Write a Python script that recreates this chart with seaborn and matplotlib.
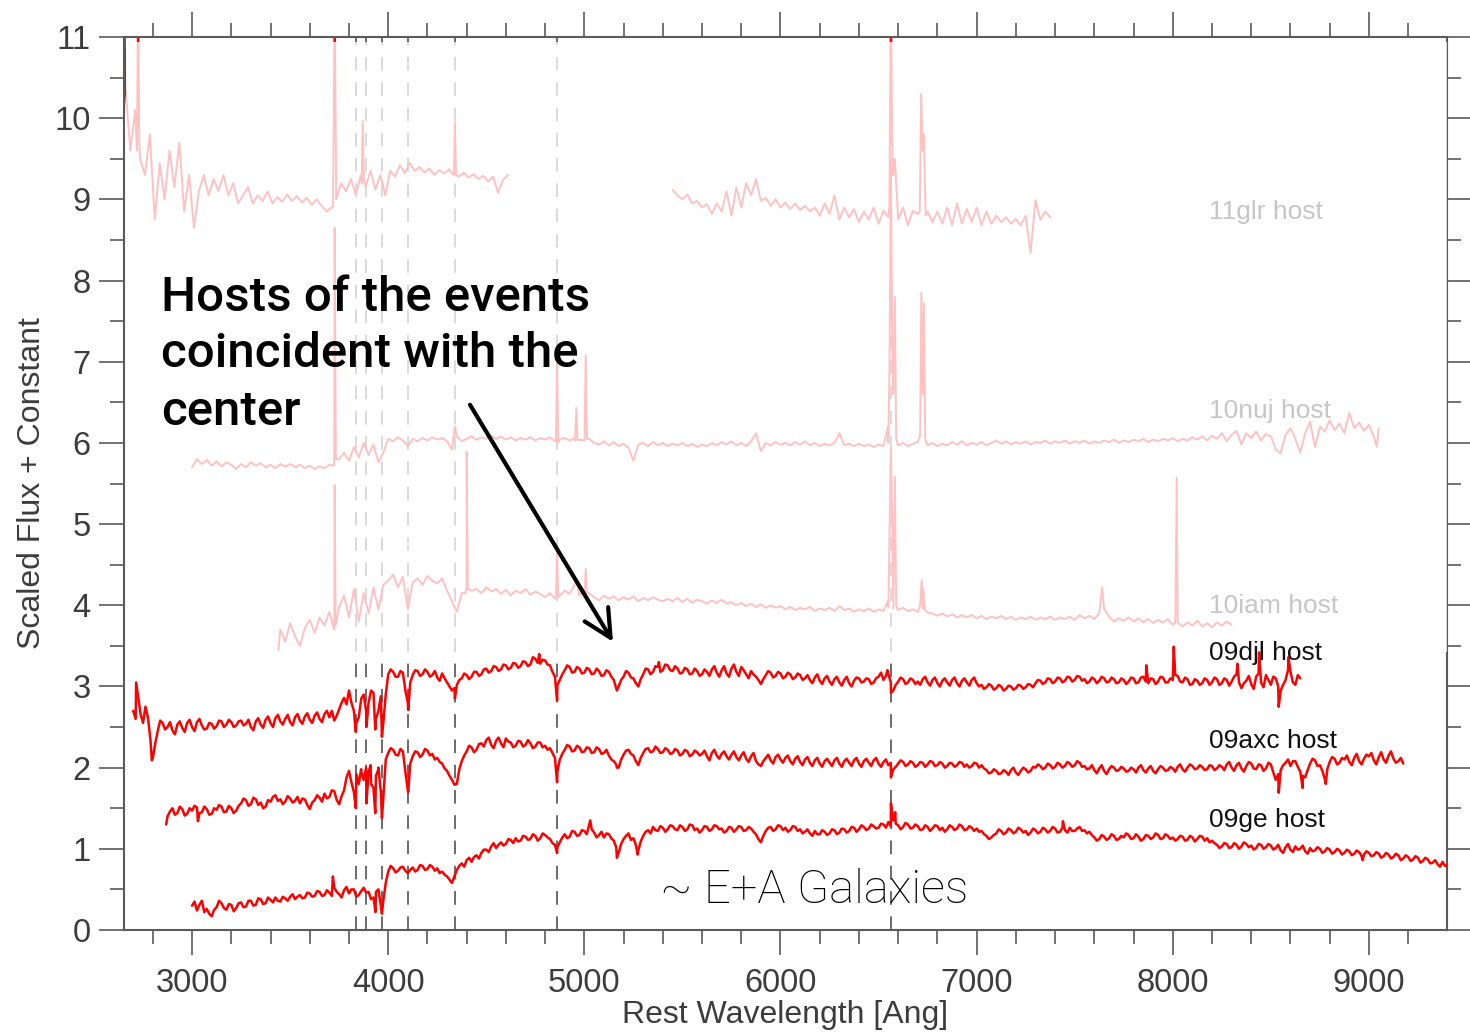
import numpy as np
import pandas as pd
import matplotlib
matplotlib.use("Agg")
import matplotlib.pyplot as plt
from matplotlib.patches import Rectangle
from matplotlib.ticker import MultipleLocator
import seaborn as sns

# ---------------------------------------------------------------------------
# Host-galaxy spectra (rest wavelength in Angstrom, scaled flux + offset).
# Each spectrum: first wavelength, sampling step, flux samples, and a list of
# narrow features (emission / absorption lines) as (wavelength, flux) pairs.
# ---------------------------------------------------------------------------

ge_start, ge_step = 3000, 12.5
ge_flux = [
    0.30, 0.35, 0.24, 0.31, 0.36, 0.22, 0.26, 0.20, 0.17, 0.25, 0.28, 0.36, 0.33, 0.27, 0.25, 0.32, 0.31, 0.23, 0.27, 0.33,
    0.34, 0.28, 0.29, 0.36, 0.36, 0.30, 0.31, 0.39, 0.38, 0.32, 0.33, 0.40, 0.37, 0.34, 0.40, 0.36, 0.35, 0.41, 0.39, 0.36,
    0.41, 0.44, 0.38, 0.41, 0.43, 0.39, 0.40, 0.46, 0.45, 0.41, 0.42, 0.48, 0.47, 0.42, 0.43, 0.49, 0.46, 0.42, 0.52, 0.47,
    0.44, 0.40, 0.49, 0.53, 0.45, 0.50, 0.50, 0.41, 0.43, 0.48, 0.52, 0.46, 0.47, 0.38, 0.40, 0.47, 0.50, 0.30, 0.36, 0.58,
    0.72, 0.79, 0.76, 0.71, 0.73, 0.77, 0.78, 0.73, 0.70, 0.74, 0.77, 0.72, 0.74, 0.80, 0.79, 0.74, 0.75, 0.80, 0.78, 0.73,
    0.76, 0.70, 0.72, 0.68, 0.66, 0.62, 0.58, 0.66, 0.74, 0.79, 0.82, 0.78, 0.86, 0.89, 0.84, 0.90, 0.92, 0.88, 0.95, 0.99,
    0.99, 0.96, 1.03, 1.07, 1.01, 1.05, 1.08, 1.04, 1.06, 1.12, 1.11, 1.07, 1.13, 1.09, 1.10, 1.16, 1.15, 1.11, 1.12, 1.18,
    1.16, 1.10, 1.13, 1.19, 1.17, 1.14, 1.12, 1.07, 1.05, 1.02, 1.08, 1.14, 1.18, 1.13, 1.15, 1.22, 1.21, 1.16, 1.17, 1.23,
    1.22, 1.18, 1.30, 1.24, 1.20, 1.14, 1.17, 1.21, 1.14, 1.19, 1.18, 1.13, 1.10, 1.02, 0.95, 1.06, 1.12, 1.16, 1.19, 1.11,
    1.13, 1.05, 0.98, 1.09, 1.16, 1.21, 1.23, 1.19, 1.27, 1.23, 1.22, 1.28, 1.26, 1.21, 1.24, 1.29, 1.28, 1.24, 1.23, 1.29,
    1.27, 1.22, 1.24, 1.30, 1.29, 1.23, 1.25, 1.20, 1.23, 1.28, 1.27, 1.22, 1.24, 1.29, 1.28, 1.24, 1.25, 1.20, 1.22, 1.27,
    1.26, 1.21, 1.24, 1.28, 1.27, 1.22, 1.23, 1.27, 1.25, 1.21, 1.18, 1.12, 1.08, 1.16, 1.22, 1.26, 1.27, 1.22, 1.24, 1.29,
    1.28, 1.23, 1.26, 1.21, 1.23, 1.28, 1.27, 1.22, 1.24, 1.19, 1.21, 1.24, 1.19, 1.16, 1.22, 1.18, 1.18, 1.23, 1.21, 1.17,
    1.19, 1.24, 1.23, 1.18, 1.20, 1.25, 1.24, 1.20, 1.22, 1.27, 1.26, 1.21, 1.24, 1.29, 1.27, 1.23, 1.25, 1.30, 1.28, 1.25,
    1.26, 1.31, 1.30, 1.26, 1.33, 1.28, 1.35, 1.31, 1.29, 1.24, 1.27, 1.32, 1.30, 1.25, 1.26, 1.30, 1.28, 1.23, 1.24, 1.29,
    1.27, 1.22, 1.25, 1.29, 1.28, 1.23, 1.26, 1.21, 1.24, 1.29, 1.27, 1.23, 1.25, 1.30, 1.28, 1.23, 1.24, 1.28, 1.26, 1.22,
    1.25, 1.21, 1.22, 1.18, 1.16, 1.12, 1.14, 1.17, 1.19, 1.24, 1.22, 1.18, 1.20, 1.25, 1.23, 1.19, 1.21, 1.26, 1.24, 1.20,
    1.22, 1.17, 1.20, 1.25, 1.23, 1.19, 1.21, 1.26, 1.24, 1.20, 1.22, 1.27, 1.25, 1.20, 1.21, 1.26, 1.23, 1.20, 1.26, 1.22,
    1.22, 1.25, 1.27, 1.22, 1.23, 1.19, 1.21, 1.17, 1.14, 1.10, 1.12, 1.17, 1.15, 1.11, 1.13, 1.18, 1.16, 1.11, 1.12, 1.16,
    1.14, 1.19, 1.17, 1.12, 1.13, 1.18, 1.15, 1.10, 1.12, 1.17, 1.16, 1.12, 1.14, 1.19, 1.17, 1.12, 1.13, 1.18, 1.16, 1.12,
    1.14, 1.10, 1.12, 1.16, 1.15, 1.10, 1.11, 1.16, 1.14, 1.09, 1.12, 1.16, 1.15, 1.10, 1.13, 1.08, 1.10, 1.07, 1.05, 1.01,
    1.03, 1.07, 1.06, 1.01, 1.02, 1.07, 1.05, 1.00, 1.03, 1.08, 1.06, 1.02, 1.04, 0.99, 1.01, 1.06, 1.05, 1.00, 1.02, 1.06,
    1.04, 0.99, 1.01, 1.05, 0.98, 0.95, 1.02, 1.06, 0.99, 0.96, 1.03, 0.99, 1.00, 1.04, 0.97, 0.94, 1.01, 0.97, 0.98, 1.02,
    1.00, 0.95, 0.97, 1.01, 0.99, 0.94, 0.96, 1.00, 0.98, 0.93, 0.95, 0.99, 0.97, 0.92, 0.94, 0.98, 0.96, 0.91, 0.93, 0.97,
    0.95, 0.91, 0.92, 0.96, 0.94, 0.89, 0.91, 0.95, 0.93, 0.88, 0.90, 0.94, 0.92, 0.86, 0.88, 0.92, 0.90, 0.85, 0.87, 0.91,
    0.89, 0.83, 0.85, 0.89, 0.87, 0.82, 0.83, 0.86, 0.81, 0.78, 0.84, 0.79, 0.80,
]
ge_lines = [(3718, 0.66), (3935, 0.22), (3968, 0.20), (4861, 0.95), (5030, 1.35),
            (5166, 0.89), (5272, 0.93), (6563, 1.56), (6585, 1.45), (7440, 1.34), (8968, 0.86)]

axc_start, axc_step = 2875, 12.5
axc_flux = [
    1.40, 1.46, 1.50, 1.42, 1.44, 1.52, 1.49, 1.41, 1.43, 1.50, 1.47, 1.53, 1.51, 1.44, 1.45, 1.52, 1.49, 1.42, 1.43, 1.50,
    1.48, 1.54, 1.52, 1.45, 1.46, 1.53, 1.50, 1.44, 1.47, 1.53, 1.56, 1.62, 1.60, 1.53, 1.55, 1.63, 1.61, 1.54, 1.57, 1.50,
    1.52, 1.60, 1.58, 1.64, 1.66, 1.59, 1.61, 1.55, 1.58, 1.65, 1.62, 1.57, 1.59, 1.64, 1.56, 1.62, 1.61, 1.54, 1.49, 1.57,
    1.60, 1.66, 1.63, 1.58, 1.68, 1.62, 1.64, 1.72, 1.71, 1.60, 1.55, 1.65, 1.72, 1.88, 1.96, 1.82, 1.70, 1.92, 1.80, 1.95,
    1.85, 2.00, 1.95, 1.80, 1.75, 1.90, 1.98, 1.70, 1.62, 2.10, 2.18, 2.24, 2.22, 2.16, 2.15, 2.23, 2.20, 1.95, 1.72, 2.05,
    2.14, 2.20, 2.19, 2.13, 2.16, 2.23, 2.21, 2.15, 2.17, 2.10, 2.12, 2.07, 2.05, 1.99, 1.96, 1.90, 1.85, 1.79, 1.80, 1.98,
    2.08, 2.15, 2.20, 2.27, 2.25, 2.19, 2.22, 2.29, 2.30, 2.26, 2.34, 2.37, 2.28, 2.24, 2.33, 2.37, 2.30, 2.25, 2.36, 2.32,
    2.31, 2.25, 2.27, 2.33, 2.32, 2.26, 2.28, 2.34, 2.30, 2.24, 2.26, 2.31, 2.31, 2.25, 2.27, 2.22, 2.24, 2.18, 2.12, 1.95,
    2.10, 2.17, 2.22, 2.28, 2.26, 2.20, 2.21, 2.27, 2.25, 2.19, 2.20, 2.25, 2.24, 2.18, 2.19, 2.25, 2.23, 2.17, 2.18, 2.22,
    2.15, 2.10, 2.08, 2.04, 2.00, 2.10, 2.16, 2.21, 2.22, 2.17, 2.15, 2.08, 2.03, 2.12, 2.18, 2.23, 2.24, 2.19, 2.20, 2.26,
    2.23, 2.18, 2.19, 2.24, 2.22, 2.17, 2.18, 2.23, 2.21, 2.15, 2.17, 2.22, 2.20, 2.14, 2.16, 2.21, 2.19, 2.15, 2.17, 2.21,
    2.14, 2.09, 2.18, 2.22, 2.15, 2.11, 2.17, 2.20, 2.14, 2.10, 2.16, 2.20, 2.13, 2.09, 2.15, 2.19, 2.11, 2.07, 2.14, 2.18,
    2.08, 2.04, 2.02, 2.08, 2.12, 2.16, 2.09, 2.05, 2.13, 2.16, 2.10, 2.06, 2.12, 2.15, 2.08, 2.04, 2.11, 2.14, 2.07, 2.03,
    2.10, 2.13, 2.06, 2.02, 2.09, 2.12, 2.05, 2.01, 2.08, 2.11, 2.06, 2.02, 2.09, 2.12, 2.05, 2.01, 2.08, 2.11, 2.06, 2.02,
    2.09, 2.12, 2.05, 2.01, 2.08, 2.11, 2.06, 2.02, 2.09, 2.12, 2.05, 2.01, 2.07, 2.10, 2.03, 2.06, 1.98, 2.01, 2.05, 2.09,
    2.07, 2.02, 2.04, 2.08, 2.06, 2.01, 2.03, 2.07, 2.06, 2.01, 2.04, 2.08, 2.07, 2.02, 2.03, 2.07, 2.05, 2.00, 2.02, 2.06,
    2.05, 2.01, 2.03, 2.07, 2.06, 2.01, 2.04, 2.00, 2.02, 2.06, 2.05, 2.00, 2.03, 1.99, 1.97, 1.93, 1.94, 1.98, 1.96, 1.92,
    1.93, 1.97, 1.95, 1.91, 1.97, 2.00, 1.94, 1.91, 1.96, 2.00, 1.98, 1.94, 1.96, 2.01, 2.00, 2.04, 2.02, 1.98, 2.00, 2.05,
    2.03, 1.99, 2.01, 2.06, 2.04, 2.00, 2.02, 2.07, 2.05, 2.01, 2.03, 2.08, 2.06, 2.01, 2.02, 1.98, 1.99, 2.03, 1.97, 1.93,
    1.99, 2.03, 1.96, 1.92, 1.98, 2.02, 2.00, 1.96, 1.97, 2.01, 1.99, 1.95, 1.96, 2.00, 1.98, 1.94, 2.00, 2.03, 1.97, 1.94,
    1.99, 2.02, 1.96, 1.93, 1.98, 2.02, 2.00, 1.96, 1.97, 2.01, 1.99, 1.95, 2.01, 2.04, 1.98, 1.95, 2.00, 2.04, 2.02, 1.98,
    1.99, 2.03, 2.01, 1.97, 1.98, 2.03, 2.02, 1.97, 1.99, 2.03, 2.01, 1.97, 2.04, 2.07, 2.00, 1.96, 2.03, 2.06, 1.99, 1.95,
    2.02, 2.07, 2.05, 1.99, 1.98, 2.04, 2.03, 1.96, 1.99, 2.06, 2.04, 1.94, 1.85, 1.92, 1.97, 2.03, 2.06, 2.10, 2.02, 2.08,
    2.08, 2.01, 1.95, 1.90, 1.88, 1.97, 2.05, 2.11, 2.09, 2.02, 2.03, 1.96, 1.86, 1.98, 2.07, 2.13, 2.11, 2.04, 2.06, 2.12,
    2.10, 2.15, 2.07, 2.03, 2.12, 2.17, 2.08, 2.04, 2.11, 2.16, 2.14, 2.18, 2.09, 2.04, 2.13, 2.19, 2.10, 2.06, 2.15, 2.20,
    2.11, 2.06, 2.08, 2.12, 2.05,
]
axc_lines = [(2868, 1.30), (3030, 1.34), (3835, 1.50), (3862, 1.98), (3889, 1.56), (3910, 2.03),
             (3934, 1.44), (3950, 2.00), (3968, 1.38), (4102, 1.70), (4340, 1.79), (4861, 1.82),
             (5166, 2.00), (5895, 2.03), (6563, 1.88), (8540, 1.69), (8662, 1.75), (8780, 1.80)]

djl_start, djl_step = 2700, 12.5
djl_flux = [
    2.70, 2.60, 2.88, 2.66, 2.55, 2.75, 2.62, 2.35, 2.12, 2.30, 2.45, 2.58, 2.55, 2.47, 2.50, 2.56, 2.46, 2.41, 2.53, 2.57,
    2.49, 2.44, 2.55, 2.59, 2.50, 2.45, 2.56, 2.60, 2.52, 2.47, 2.48, 2.55, 2.54, 2.48, 2.51, 2.58, 2.57, 2.50, 2.53, 2.59,
    2.56, 2.50, 2.52, 2.57, 2.58, 2.52, 2.54, 2.59, 2.50, 2.46, 2.57, 2.61, 2.53, 2.49, 2.59, 2.63, 2.55, 2.50, 2.61, 2.65,
    2.57, 2.53, 2.60, 2.65, 2.56, 2.52, 2.62, 2.66, 2.58, 2.54, 2.63, 2.67, 2.59, 2.55, 2.64, 2.68, 2.60, 2.56, 2.66, 2.70,
    2.62, 2.70, 2.58, 2.64, 2.72, 2.80, 2.86, 2.78, 2.95, 2.80, 2.70, 2.55, 2.62, 2.85, 2.90, 2.70, 2.80, 2.95, 2.92, 2.60,
    2.70, 2.88, 2.55, 2.90, 3.15, 3.21, 3.18, 3.12, 3.12, 3.19, 3.17, 2.95, 2.80, 3.05, 3.14, 3.20, 3.19, 3.13, 3.15, 3.21,
    3.18, 3.12, 3.14, 3.19, 3.11, 3.07, 3.16, 3.10, 3.05, 3.00, 2.95, 2.98, 3.02, 3.08, 3.10, 3.16, 3.14, 3.09, 3.12, 3.18,
    3.18, 3.13, 3.15, 3.21, 3.22, 3.17, 3.19, 3.25, 3.24, 3.19, 3.21, 3.27, 3.26, 3.21, 3.23, 3.29, 3.28, 3.23, 3.25, 3.31,
    3.30, 3.25, 3.27, 3.36, 3.34, 3.29, 3.28, 3.33, 3.32, 3.27, 3.26, 3.18, 3.12, 3.02, 3.08, 3.15, 3.20, 3.26, 3.24, 3.17,
    3.18, 3.24, 3.22, 3.16, 3.17, 3.23, 3.21, 3.15, 3.16, 3.22, 3.19, 3.13, 3.14, 3.20, 3.18, 3.12, 3.08, 2.98, 3.00, 3.08,
    3.12, 3.19, 3.17, 3.11, 3.10, 3.04, 3.00, 3.09, 3.15, 3.22, 3.21, 3.15, 3.18, 3.25, 3.24, 3.18, 3.20, 3.27, 3.26, 3.20,
    3.19, 3.25, 3.22, 3.16, 3.17, 3.23, 3.21, 3.15, 3.16, 3.22, 3.19, 3.13, 3.15, 3.21, 3.18, 3.13, 3.21, 3.25, 3.17, 3.12,
    3.20, 3.25, 3.16, 3.12, 3.22, 3.27, 3.18, 3.13, 3.24, 3.20, 3.15, 3.10, 3.19, 3.15, 3.12, 3.08, 3.03, 3.09, 3.14, 3.19,
    3.17, 3.11, 3.13, 3.18, 3.16, 3.10, 3.12, 3.17, 3.15, 3.09, 3.11, 3.16, 3.14, 3.08, 3.10, 3.14, 3.08, 3.04, 3.11, 3.15,
    3.07, 3.03, 3.10, 3.13, 3.06, 3.02, 3.09, 3.12, 3.05, 3.01, 3.08, 3.12, 3.04, 3.00, 3.07, 3.11, 3.10, 3.05, 3.06, 3.10,
    3.09, 3.03, 3.05, 3.10, 3.12, 3.17, 3.08, 3.13, 3.15, 3.05, 2.95, 3.02, 3.06, 3.11, 3.09, 3.03, 3.05, 3.10, 3.08, 3.03,
    3.06, 3.02, 3.09, 3.12, 3.05, 3.01, 3.08, 3.11, 3.04, 3.00, 3.07, 3.10, 3.05, 3.01, 3.08, 3.11, 3.04, 3.00, 3.07, 3.10,
    3.05, 3.01, 3.08, 3.11, 3.04, 3.00, 3.02, 2.97, 2.99, 3.03, 3.01, 2.96, 2.98, 3.02, 3.00, 2.95, 2.97, 3.01, 3.00, 2.96,
    2.98, 3.02, 3.01, 2.97, 2.99, 3.03, 3.02, 2.99, 3.04, 3.08, 3.07, 3.03, 3.05, 3.10, 3.09, 3.04, 3.06, 3.11, 3.10, 3.05,
    3.07, 3.12, 3.11, 3.06, 3.08, 3.13, 3.12, 3.07, 3.09, 3.04, 3.06, 3.11, 3.09, 3.04, 3.07, 3.12, 3.10, 3.05, 3.06, 3.11,
    3.09, 3.04, 3.05, 3.10, 3.08, 3.03, 3.06, 3.11, 3.10, 3.04, 3.05, 3.11, 3.12, 3.06, 3.04, 3.10, 3.09, 3.03, 3.06, 3.12,
    3.11, 3.05, 3.05, 3.10, 3.08, 3.14, 3.13, 3.06, 3.05, 3.11, 3.09, 3.02, 3.03, 3.09, 3.07, 3.02, 3.04, 3.10, 3.08, 3.02,
    3.05, 3.11, 3.09, 3.02, 3.04, 3.10, 3.08, 3.01, 3.06, 3.12, 3.15, 3.05, 2.98, 3.04, 3.07, 3.13, 3.03, 2.97, 3.12, 3.16,
    3.05, 2.99, 3.14, 3.08, 3.02, 3.12, 3.10, 3.00, 2.95, 3.02, 3.08, 3.20, 3.18, 3.05, 3.02, 3.14, 3.10,
]
djl_lines = [(2715, 3.05), (2795, 2.09), (3835, 2.44), (3889, 2.50),
             (3934, 2.47), (3968, 2.38), (4102, 2.71), (4340, 2.85), (4770, 3.40), (4861, 2.83),
             (5166, 2.95), (5380, 3.30), (6545, 3.20), (6563, 2.92), (7865, 3.26), (8005, 3.49),
             (8330, 3.28), (8440, 3.42), (8540, 2.75), (8590, 3.36)]

iam_start, iam_step = 3450, 25
iam_flux = [
    3.70, 3.55, 3.78, 3.62, 3.50, 3.72, 3.82, 3.66, 3.85, 3.75, 3.92, 3.70, 3.98, 4.12, 3.85, 4.20, 3.80, 4.15, 3.90, 4.22,
    3.95, 4.25, 4.30, 4.38, 4.22, 4.35, 3.95, 4.28, 4.33, 4.25, 4.36, 4.30, 4.27, 4.33, 4.18, 4.05, 3.92, 4.15, 4.22, 4.18,
    4.20, 4.15, 4.22, 4.17, 4.20, 4.14, 4.19, 4.12, 4.18, 4.15, 4.20, 4.13, 4.17, 4.14, 4.10, 4.15, 4.08, 4.12, 4.18, 4.14,
    4.25, 4.12, 4.20, 4.15, 4.10, 4.06, 4.12, 4.08, 4.11, 4.06, 4.10, 4.07, 4.11, 4.05, 4.09, 4.06, 4.10, 4.07, 4.05, 4.08,
    4.05, 4.09, 4.04, 4.08, 4.03, 4.07, 4.05, 4.02, 4.06, 4.03, 4.07, 4.02, 4.04, 4.00, 4.03, 3.99, 4.02, 3.98, 4.01, 3.97,
    4.00, 3.97, 3.99, 3.95, 3.98, 3.94, 3.97, 3.95, 3.98, 3.93, 3.96, 3.94, 3.97, 3.93, 3.99, 3.94, 3.96, 3.92, 3.95, 3.93,
    3.96, 3.92, 3.95, 3.93, 3.98, 3.96, 3.94, 3.97, 3.93, 3.95, 3.92, 3.96, 3.91, 3.90, 3.87, 3.90, 3.86, 3.89, 3.85, 3.88,
    3.85, 3.88, 3.84, 3.87, 3.83, 3.86, 3.84, 3.87, 3.83, 3.86, 3.82, 3.85, 3.83, 3.86, 3.82, 3.85, 3.83, 3.86, 3.82, 3.85,
    3.83, 3.86, 3.82, 3.88, 3.84, 3.87, 3.83, 3.90, 3.95, 3.86, 3.80, 3.84, 3.81, 3.85, 3.80, 3.84, 3.79, 3.83, 3.78, 3.82,
    3.79, 3.83, 3.76, 3.80, 3.74, 3.79, 3.75, 3.81, 3.74, 3.78, 3.73, 3.79, 3.75, 3.80, 3.76,
]
iam_lines = [(3440, 3.45), (3722, 3.72), (3727, 5.48), (3732, 3.75), (4394, 4.15), (4400, 5.89),
             (4406, 4.20), (4855, 4.10), (4861, 4.65), (4867, 4.10), (4959, 4.30), (5001, 4.15),
             (5007, 4.45), (5013, 4.15), (6548, 4.05), (6558, 5.20), (6563, 5.95), (6570, 5.00),
             (6583, 5.58), (6590, 4.00), (6712, 4.00), (6720, 4.31), (6728, 4.20), (6735, 3.95),
             (7640, 4.22), (8013, 3.78), (8020, 5.57), (8028, 3.78)]

nuj_start, nuj_step = 3000, 25
nuj_flux = [
    5.70, 5.80, 5.74, 5.79, 5.72, 5.77, 5.71, 5.76, 5.73, 5.68, 5.74, 5.70, 5.76, 5.72, 5.75, 5.70, 5.73, 5.69, 5.74, 5.71,
    5.74, 5.70, 5.73, 5.69, 5.72, 5.68, 5.71, 5.69, 5.73, 5.75, 5.80, 5.88, 5.78, 5.95, 5.82, 6.00, 5.85, 5.98, 5.76, 5.88,
    6.05, 6.02, 6.07, 6.03, 5.96, 6.05, 6.02, 6.06, 6.03, 6.07, 6.04, 6.06, 6.02, 5.92, 6.08, 6.02, 6.05, 6.08, 6.04, 6.07,
    6.05, 6.09, 6.05, 6.08, 6.04, 6.07, 6.03, 6.06, 6.04, 6.07, 6.03, 6.06, 6.04, 6.07, 6.02, 6.05, 6.06, 6.03, 6.06, 6.04,
    6.03, 6.05, 6.00, 5.98, 6.02, 5.97, 6.01, 5.96, 5.99, 5.94, 5.78, 5.98, 6.00, 5.96, 6.01, 5.97, 6.00, 5.96, 5.99, 5.97,
    6.00, 5.96, 5.99, 5.95, 5.98, 5.96, 6.00, 5.97, 6.01, 5.98, 6.02, 5.97, 6.00, 5.96, 6.02, 6.12, 5.90, 6.00, 5.97, 6.01,
    5.98, 6.00, 5.97, 6.01, 5.98, 6.02, 5.97, 6.00, 5.96, 5.99, 5.97, 6.00, 6.12, 5.97, 5.99, 5.96, 5.99, 5.96, 5.98, 5.95,
    5.98, 5.96, 6.00, 6.60, 5.97, 6.00, 5.96, 5.99, 6.01, 6.60, 5.97, 6.00, 5.96, 5.99, 5.97, 6.01, 5.98, 6.02, 5.97, 6.00,
    5.98, 6.01, 5.97, 6.00, 6.03, 5.99, 6.02, 5.98, 6.01, 5.99, 6.02, 5.98, 6.01, 6.00, 6.03, 5.99, 6.02, 6.00, 6.03, 5.99,
    6.02, 6.00, 6.03, 5.99, 6.02, 6.00, 6.03, 6.01, 6.04, 6.00, 6.03, 6.01, 6.04, 6.02, 6.05, 6.01, 6.04, 6.02, 6.05, 6.03,
    6.06, 6.02, 6.05, 6.03, 6.07, 6.04, 6.08, 6.03, 6.09, 6.05, 6.12, 6.02, 6.10, 6.15, 5.98, 6.12, 6.06, 6.14, 6.03, 6.11,
    6.08, 5.92, 5.87, 6.10, 6.18, 6.05, 5.88, 6.12, 6.26, 5.95, 6.20, 6.14, 6.28, 6.16, 6.24, 6.12, 6.37, 6.18, 6.25, 6.15,
    6.22, 6.08, 6.18,
]
nuj_lines = [(3721, 5.72), (3727, 8.65), (3733, 5.80), (4340, 6.20), (4855, 6.02), (4861, 7.00),
             (4867, 6.00), (4953, 6.03), (4959, 6.43), (4965, 6.03), (5001, 6.05), (5007, 7.08),
             (5013, 6.05), (6548, 6.20), (6556, 7.00), (6563, 9.40), (6570, 7.20), (6583, 7.80),
             (6590, 6.05), (6712, 6.10), (6718, 7.85), (6731, 7.72), (6738, 6.05), (9040, 5.95)]

glr_a_start, glr_a_step = 2660, 25
glr_a_flux = [
    10.4, 9.6, 10.1, 9.5, 9.3, 9.8, 8.75, 9.45, 9.0, 9.6, 9.15, 9.7, 8.85, 9.3, 8.65, 9.1, 9.3, 9.05, 9.25, 9.1,
    9.3, 9.05, 9.2, 8.95, 9.05, 9.15, 8.95, 9.05, 8.98, 9.1, 8.95, 9.03, 8.97, 9.06, 8.98, 9.04, 8.96, 9.02, 8.93, 9.0,
    8.92, 8.85, 8.9, 9.05, 9.2, 9.1, 9.25, 9.05, 9.3, 9.15, 9.35, 9.12, 9.3, 9.05, 9.35, 9.28, 9.42, 9.32, 9.45, 9.35,
    9.4, 9.33, 9.38, 9.3, 9.36, 9.32, 9.37, 9.3, 9.28, 9.33, 9.27, 9.31, 9.25, 9.29, 9.22, 9.28, 9.08, 9.24, 9.3,
]
glr_a_lines = [(2655, 11.5), (2719, 9.6), (2725, 11.5), (2731, 9.7), (3719, 8.9), (3727, 11.5),
               (3735, 9.0), (3865, 9.2), (3870, 9.97), (3876, 9.25), (4334, 9.3), (4340, 9.95),
               (4346, 9.3)]

glr_b_start, glr_b_step = 5450, 25
glr_b_flux = [
    9.12, 9.05, 9.0, 9.06, 8.95, 8.98, 8.9, 8.94, 8.82, 8.95, 8.85, 9.1, 8.8, 9.15, 8.9, 9.2, 9.05, 9.25, 8.98, 9.02,
    8.92, 9.0, 8.9, 8.96, 8.88, 8.95, 8.87, 8.92, 8.85, 8.9, 8.8, 8.95, 8.82, 9.05, 8.75, 8.9, 8.78, 8.88, 8.72, 8.85,
    8.75, 8.9, 8.7, 8.86, 8.78, 9.3, 8.75, 8.9, 8.68, 8.86, 8.82, 9.6, 8.85, 8.72, 8.85, 8.7, 8.9, 8.68, 8.95, 8.7,
    8.88, 8.72, 8.9, 8.68, 8.85, 8.7, 8.8, 8.72, 8.78, 8.7, 8.76, 8.68, 8.8, 8.34, 8.99, 8.75, 8.85, 8.78,
]
glr_b_lines = [(6555, 8.9), (6563, 11.5), (6571, 9.4), (6583, 9.5), (6710, 8.85), (6717, 10.3),
               (6731, 9.8), (6740, 8.8)]

# Labels drawn next to each spectrum
host_names = ["11glr host", "10nuj host", "10iam host", "09djl host", "09axc host", "09ge host"]
host_label_y = [8.84, 6.39, 3.99, 3.41, 2.33, 1.35]

# Stellar absorption lines marked with dashed guides (H9, H8, CaH/He, Hd, Hg, Hb, Ha)
marker_lines = [3835, 3889, 3970, 4102, 4340, 4861, 6563]


def build(name, start, step, flux, lines, segment):
    wave = start + step * np.arange(len(flux))
    if lines:
        lw_, lf_ = zip(*lines)
        wave = np.concatenate([wave, lw_])
        flux = np.concatenate([flux, lf_])
    order = np.argsort(wave, kind="stable")
    return pd.DataFrame({"wave": np.asarray(wave, float)[order],
                         "flux": np.asarray(flux, float)[order],
                         "host": name, "segment": segment})


faded = pd.concat([
    build("11glr host", glr_a_start, glr_a_step, glr_a_flux, glr_a_lines, "11glr_a"),
    build("11glr host", glr_b_start, glr_b_step, glr_b_flux, glr_b_lines, "11glr_b"),
    build("10nuj host", nuj_start, nuj_step, nuj_flux, nuj_lines, "10nuj"),
    build("10iam host", iam_start, iam_step, iam_flux, iam_lines, "10iam"),
], ignore_index=True)

bright = pd.concat([
    build("09djl host", djl_start, djl_step, djl_flux, djl_lines, "09djl"),
    build("09axc host", axc_start, axc_step, axc_flux, axc_lines, "09axc"),
    build("09ge host", ge_start, ge_step, ge_flux, ge_lines, "09ge"),
], ignore_index=True)

# ---------------------------------------------------------------------------
sns.set_style("ticks")
plt.rcParams["font.family"] = ["Liberation Sans", "DejaVu Sans"]

fig = plt.figure(figsize=(14.7, 10.34), dpi=100)
ax = fig.add_axes([124 / 1470, 1 - 930 / 1034, 1323 / 1470, 893 / 1034])

XMIN, XMAX, YMIN, YMAX = 2653, 9398, 0, 11

for w in marker_lines:
    ax.axvline(w, color="#6a6a6a", lw=1.4, dashes=(7, 6), zorder=1)

sns.lineplot(data=faded, x="wave", y="flux", units="segment", estimator=None, sort=False,
             color="#ff0000", lw=1.4, ax=ax, zorder=2, legend=False)

for name, y in zip(host_names[:3], host_label_y[:3]):
    ax.text(8183, y, name, fontsize=19, family=["Liberation Sans", "DejaVu Sans"],
            color="#141414", va="center", ha="left", zorder=2)

# translucent veil over the upper spectra
ax.add_patch(Rectangle((2662, 3.43), 9398 - 2662, 10.94 - 3.43, facecolor="white",
                       edgecolor="none", alpha=0.76, zorder=3))

sns.lineplot(data=bright, x="wave", y="flux", units="segment", estimator=None, sort=False,
             color="#ff0000", lw=1.8, ax=ax, zorder=4, legend=False)

for name, y in zip(host_names[3:], host_label_y[3:]):
    ax.text(8183, y, name, fontsize=19, family=["Liberation Sans", "DejaVu Sans"],
            color="#111111", va="center", ha="left", zorder=5)

ax.set_xlim(XMIN, XMAX)
ax.set_ylim(YMIN, YMAX)

ax.xaxis.set_major_locator(MultipleLocator(1000))
ax.xaxis.set_minor_locator(MultipleLocator(200))
ax.yaxis.set_major_locator(MultipleLocator(1))
ax.yaxis.set_minor_locator(MultipleLocator(0.5))

spine_col = "#5a5a5a"
for s in ax.spines.values():
    s.set_color(spine_col)
    s.set_linewidth(1.5)
    s.set_visible(True)

ax.tick_params(which="both", direction="out", top=True, right=True, colors=spine_col,
               labelcolor="#3c3c3c", labelsize=23.5)
ax.tick_params(which="major", length=18, width=1.2, pad=6)
ax.tick_params(which="minor", length=10, width=1.2)
ax.tick_params(axis="x", which="major", pad=9)

ax.set_xlabel("Rest Wavelength [Ang]", fontsize=23, color="#3c3c3c")
ax.set_ylabel("Scaled Flux + Constant", fontsize=23, color="#3c3c3c")
ax.xaxis.set_label_coords(0.5, -0.078)
ax.yaxis.set_label_coords(-0.058, 0.5)

# annotations
big_font = ["Roboto", "Liberation Sans", "DejaVu Sans"]
for txt, y in zip(["Hosts of the events", "coincident with the", "center"], [7.62, 6.93, 6.22]):
    ax.text(2842, y, txt, fontsize=35.5, family=big_font, fontweight="medium",
            color="black", ha="left", va="baseline", zorder=6)

ax.annotate("", xy=(5146, 3.55), xytext=(4417, 6.47),
            arrowprops=dict(arrowstyle="->,head_length=0.9,head_width=0.45", lw=3.0,
                            color="black", shrinkA=0, shrinkB=0, mutation_scale=22),
            zorder=6)

ax.text(5385, 0.33, "~ E+A Galaxies", fontsize=34, family=["Roboto", "Lato", "DejaVu Sans"],
        fontweight="light", color="black", ha="left", va="baseline", zorder=6)

fig.savefig("out.png", dpi=100)
